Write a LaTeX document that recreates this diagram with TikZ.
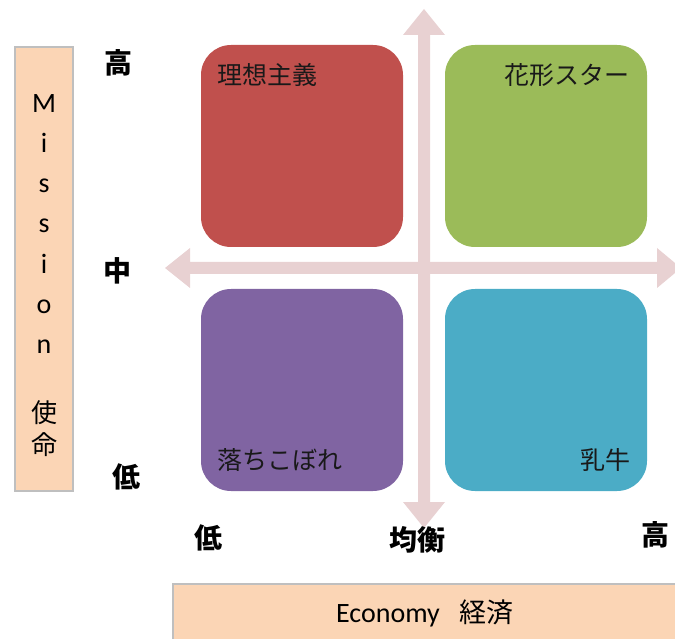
\documentclass[tikz,border=0pt]{standalone}
\usepackage{fontspec}
\setmainfont{Carlito}
\newfontfamily\jp{Noto Sans CJK JP}
\definecolor{qred}{HTML}{C0504D}
\definecolor{qgreen}{HTML}{9BBB59}
\definecolor{qpurple}{HTML}{8064A2}
\definecolor{qteal}{HTML}{4BACC6}
\definecolor{arrowpink}{HTML}{E8D1D2}
\definecolor{peach}{HTML}{FBD5B5}
\definecolor{boxgray}{HTML}{BFBFBF}
\begin{document}
\begin{tikzpicture}[x=1pt,y=-1pt,
  quad/.style={rounded corners=30pt, minimum width=202pt, minimum height=202pt, inner sep=0pt, draw=none},
  axislbl/.style={font=\jp\bfseries\fontsize{28}{30}\selectfont, inner sep=0pt},
  quadlbl/.style={font=\jp\fontsize{25}{28}\selectfont, inner sep=0pt, text=black!90},
  arrowfill/.style={fill=arrowpink, draw=none},
  sidebox/.style={fill=peach, draw=boxgray, line width=1.5pt, inner sep=0pt},
  sidetxt/.style={font=\fontsize{28}{30}\selectfont, inner sep=0pt},
  sidejp/.style={font=\jp\fontsize{26}{30}\selectfont, inner sep=0pt}]
\useasboundingbox (0,0) rectangle (675,639);

% axes (block double arrows)
\fill[arrowfill] (418,35) -- (403,35) -- (424,9) -- (445,35) -- (430,35)
  -- (430,502) -- (445,502) -- (424,528) -- (403,502) -- (418,502) -- cycle;
\fill[arrowfill] (190,262) -- (190,248) -- (165,268) -- (190,288) -- (190,274)
  -- (657,274) -- (657,248) -- (681,268) -- (657,288) -- (657,262) -- cycle;

% quadrants
\node[quad, fill=qred]    (ideal)  at (302,146) {};
\node[quad, fill=qgreen]  (star)   at (546,146) {};
\node[quad, fill=qpurple] (drop)   at (302,390) {};
\node[quad, fill=qteal]   (cow)    at (546,390) {};

\node[quadlbl, anchor=west] (idealtxt) at (217,75)  {理想主義};
\node[quadlbl, anchor=east] (startxt)  at (630,75)  {花形スター};
\node[quadlbl, anchor=west] (droptxt)  at (217,460) {落ちこぼれ};
\node[quadlbl, anchor=east] (cowtxt)   at (631,460) {乳牛};

% axis level labels
\node[axislbl] (yhigh) at (118,63)  {高};
\node[axislbl] (ymid)  at (117,271) {中};
\node[axislbl] (ylow)  at (126,477) {低};
\node[axislbl] (xlow)  at (208,538) {低};
\node[axislbl] (xmid)  at (417,540) {均衡};
\node[axislbl] (xhigh) at (655,535) {高};

% Mission box
\node[sidebox, minimum width=58pt, minimum height=444pt] (mission) at (44,269) {};
\foreach \ch/\yy [count=\k] in {M/113, i/153, s/193, s/233, i/273, o/313, n/353}
  \node[sidetxt, anchor=base] (mch\k) at (44,\yy) {\ch};
\node[sidejp] (mjp1) at (44,413) {使};
\node[sidejp] (mjp2) at (44,445) {命};

% Economy box
\node[sidebox, anchor=north west, minimum width=520pt, minimum height=70pt] (economy) at (172,583) {};
\node[sidetxt] (ecotxt) at (425,613) {Economy\hspace{20pt}{\jp\fontsize{27}{30}\selectfont 経済}};
\end{tikzpicture}
\end{document}
